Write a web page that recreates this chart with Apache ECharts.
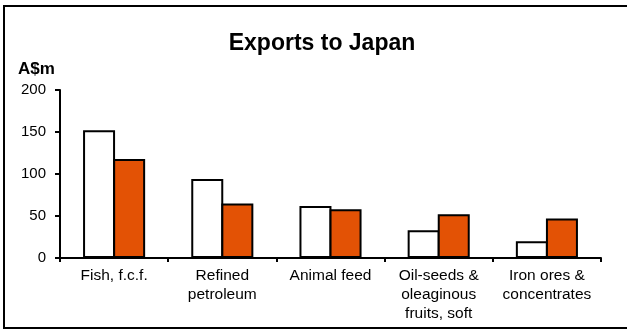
<!DOCTYPE html>
<html>
<head>
<meta charset="utf-8">
<script src="https://cdn.jsdelivr.net/npm/echarts@6/dist/echarts.min.js"></script>
<style>
html,body{margin:0;padding:0;background:#fff;}
#chart{width:627px;height:330px;}
</style>
</head>
<body>
<div id="chart"></div>
<script>
const categories = ['Fish, f.c.f.', 'Refined\npetroleum', 'Animal feed', 'Oil-seeds &\noleaginous\nfruits, soft', 'Iron ores &\nconcentrates'];
const seriesA = [152, 94, 62, 33, 20];
const seriesB = [118, 65, 58, 52, 47];
const yTicks = [0, 50, 100, 150, 200];

const chart = echarts.init(document.getElementById('chart'), null, {renderer: 'canvas'});
const font = 'Arial, "Liberation Sans", sans-serif';
chart.setOption({
  animation: false,
  backgroundColor: '#fff',
  title: {
    text: 'Exports to Japan',
    left: 317, top: 27, textAlign: 'center',
    textStyle: {fontFamily: font, fontWeight: 'bold', fontSize: 23, color: '#000'}
  },
  graphic: [
    {type: 'rect', shape: {x: 4, y: 6, width: 640, height: 322}, style: {fill: 'none', stroke: '#000', lineWidth: 2}, silent: true},
    {type: 'text', left: 18, top: 61, style: {text: 'A$m', font: 'bold 17px ' + font, fill: '#000'}}
  ],
  grid: {left: 60, right: 26, top: 90, bottom: 72, containLabel: false},
  xAxis: {
    type: 'category',
    data: categories,
    axisLine: {lineStyle: {color: '#000', width: 2}},
    axisTick: {show: true, length: 4, lineStyle: {color: '#000', width: 2}},
    axisLabel: {fontFamily: font, fontSize: 15.5, color: '#000', margin: 8, lineHeight: 19, interval: 0}
  },
  yAxis: {
    type: 'value', min: yTicks[0], max: yTicks[yTicks.length - 1], interval: 50,
    axisLine: {show: true, lineStyle: {color: '#000', width: 2}},
    axisTick: {show: true, length: 5, lineStyle: {color: '#000', width: 2}},
    splitLine: {show: false},
    axisLabel: {fontFamily: font, fontSize: 15, color: '#000', margin: 14}
  },
  series: [
    {type: 'bar', data: seriesA, barWidth: 32, barGap: '-6%',
     itemStyle: {color: '#fff', borderColor: '#000', borderWidth: 2}},
    {type: 'bar', data: seriesB, barWidth: 32,
     itemStyle: {color: '#E35205', borderColor: '#000', borderWidth: 2}}
  ]
});
</script>
</body>
</html>
